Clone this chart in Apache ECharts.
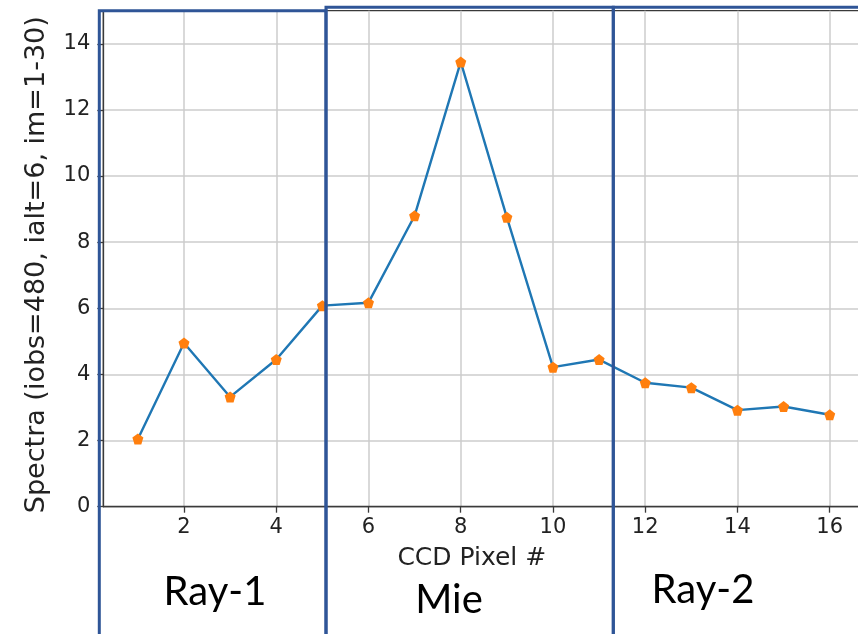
<!DOCTYPE html>
<html>
<head>
<meta charset="utf-8">
<script src="https://cdn.jsdelivr.net/npm/echarts@6/dist/echarts.min.js"></script>
<style>
html,body{margin:0;padding:0;background:#fff;}
#c{width:858px;height:634px;}
</style>
</head>
<body>
<div id="c"></div>
<script>
const pixels = [1, 2, 3, 4, 5, 6, 7, 8, 9, 10, 11, 12, 13, 14, 15, 16];
const spectra = [2.05, 4.95, 3.32, 4.45, 6.08, 6.17, 8.8, 13.45, 8.75, 4.22, 4.45, 3.75, 3.6, 2.92, 3.03, 2.78];
const xTicks = [2, 4, 6, 8, 10, 12, 14, 16];
const yTicks = [0, 2, 4, 6, 8, 10, 12, 14];
const regionLabels = ['Ray-1', 'Mie', 'Ray-2'];

const chart = echarts.init(document.getElementById('c'));
const pent = 'path://M0,-1 L0.951,-0.309 L0.588,0.809 L-0.588,0.809 L-0.951,-0.309 Z';
const boxColor = '#2F5597';
const spine = '#3a3a3a';
const tickFont = {fontFamily: 'DejaVu Sans', fontSize: 21, color: '#222'};

chart.setOption({
  animation: false,
  grid: {left: 103.3, top: 10.7, width: 761, height: 496, outerBoundsMode: 'none', containLabel: false, show: true, borderColor: spine, borderWidth: 1.3, backgroundColor: 'transparent'},
  xAxis: {
    type: 'value', min: 0.25, max: 16.75,
    name: 'CCD Pixel #', nameLocation: 'middle', nameGap: 39,
    nameTextStyle: {fontFamily: 'DejaVu Sans', fontSize: 25, color: '#222', padding: [0, 24, 0, 0]},
    axisLine: {show: true, lineStyle: {color: spine, width: 1.3}},
    axisTick: {show: true, length: 6, lineStyle: {color: spine, width: 1.3}, customValues: xTicks},
    axisLabel: Object.assign({margin: 10, customValues: xTicks}, tickFont),
    splitLine: {show: true, lineStyle: {color: '#cccccc', width: 1.5}}
  },
  yAxis: {
    type: 'value', min: 0, max: 15,
    name: 'Spectra (iobs=480, ialt=6, im=1-30)', nameLocation: 'middle', nameGap: 53,
    nameTextStyle: {fontFamily: 'DejaVu Sans', fontSize: 27, color: '#222', padding: [0, 12, 0, 0]},
    axisLine: {show: true, lineStyle: {color: spine, width: 1.3}},
    axisTick: {show: true, length: 6, lineStyle: {color: spine, width: 1.3}, customValues: yTicks},
    axisLabel: Object.assign({margin: 13, customValues: yTicks}, tickFont),
    splitLine: {show: true, lineStyle: {color: '#cccccc', width: 1.5}}
  },
  series: [{
    type: 'line',
    data: pixels.map((p, i) => [p, spectra[i]]),
    lineStyle: {color: '#1f77b4', width: 2.4},
    itemStyle: {color: '#ff7f0e'},
    symbol: pent, symbolSize: 11, showAllSymbol: true,
    z: 3
  }],
  graphic: [
    {type: 'rect', shape: {x: 99.3, y: 10.7, width: 226.7, height: 700}, style: {fill: 'none', stroke: boxColor, lineWidth: 3}, z: 10},
    {type: 'rect', shape: {x: 326, y: 7.3, width: 287.3, height: 700}, style: {fill: 'none', stroke: boxColor, lineWidth: 3}, z: 10},
    {type: 'rect', shape: {x: 613.3, y: 7.3, width: 300, height: 700}, style: {fill: 'none', stroke: boxColor, lineWidth: 3}, z: 10},
    {type: 'text', x: 215, y: 592, style: {text: regionLabels[0], font: '40px Lato', fill: '#000', textAlign: 'center', textVerticalAlign: 'middle'}, z: 11},
    {type: 'text', x: 449, y: 600, style: {text: regionLabels[1], font: '40px Lato', fill: '#000', textAlign: 'center', textVerticalAlign: 'middle'}, z: 11},
    {type: 'text', x: 703, y: 590, style: {text: regionLabels[2], font: '40px Lato', fill: '#000', textAlign: 'center', textVerticalAlign: 'middle'}, z: 11}
  ]
});
</script>
</body>
</html>
